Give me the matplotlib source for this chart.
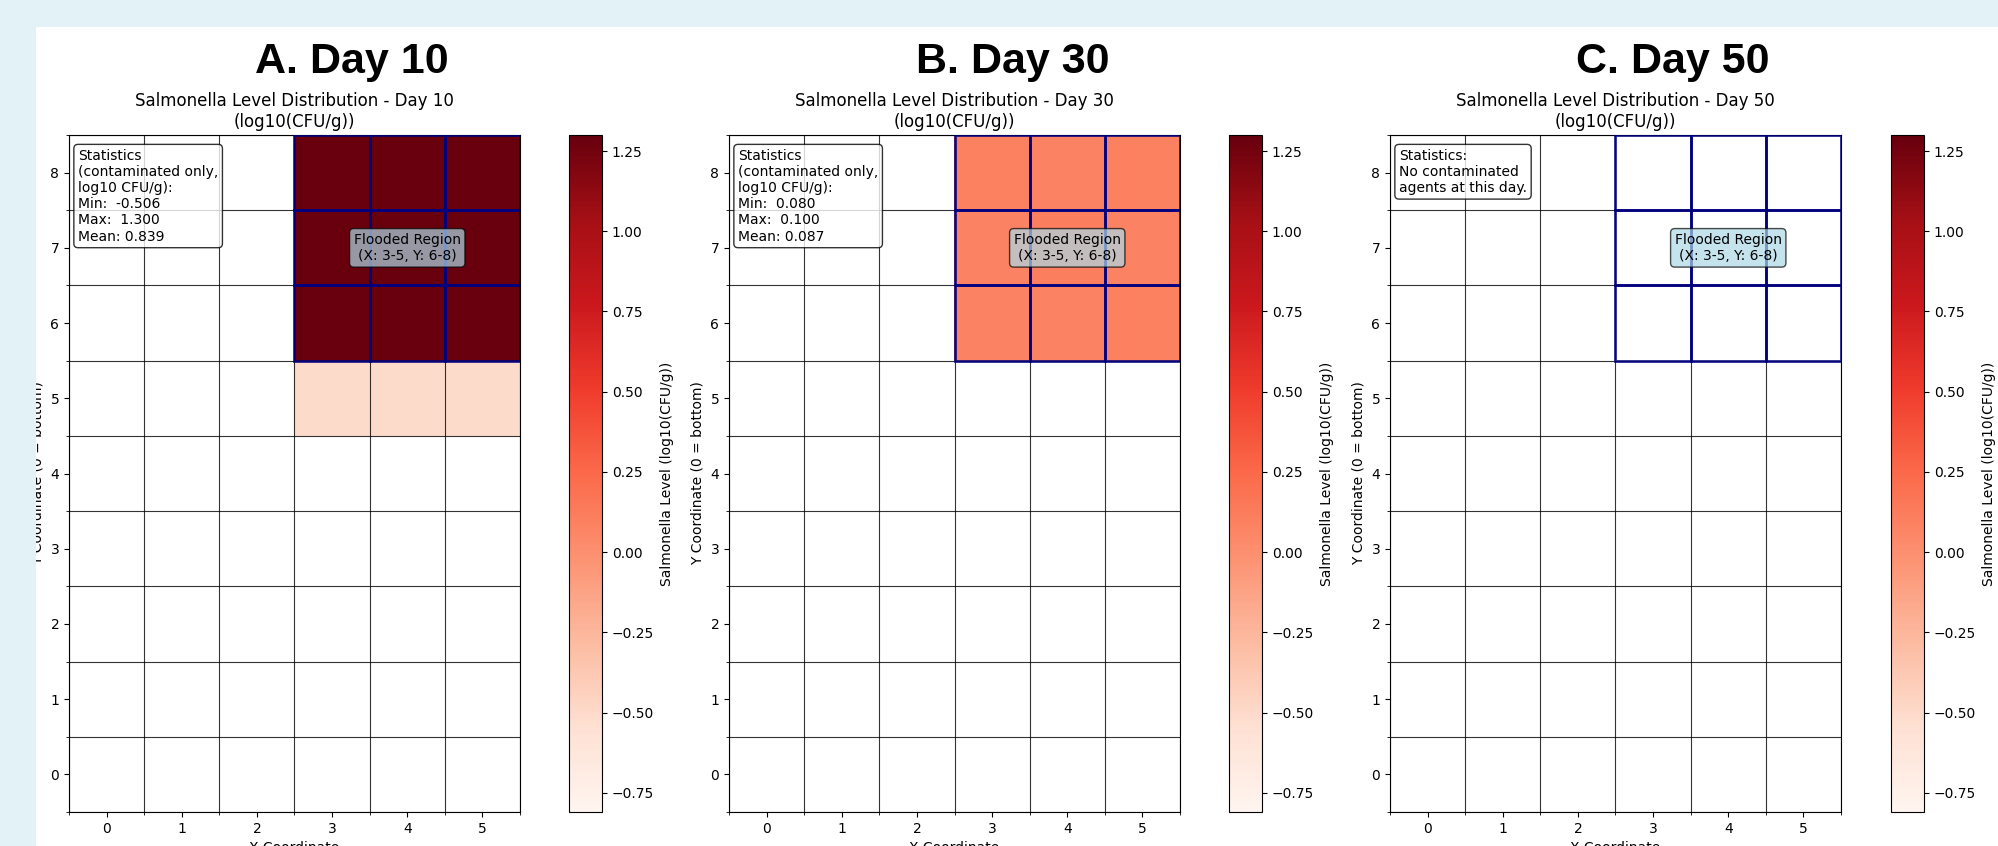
import numpy as np
import matplotlib
matplotlib.use("Agg")
import matplotlib.pyplot as plt
from matplotlib.patches import Rectangle

# ---------------- data ----------------
panel_titles = ["A. Day 10", "B. Day 30", "C. Day 50"]
days = [10, 30, 50]
x_ticks = [0, 1, 2, 3, 4, 5]
y_ticks = [0, 1, 2, 3, 4, 5, 6, 7, 8]
flood_x = [3, 4, 5]
flood_y = [6, 7, 8]
N = None

# rows listed from y = 0 (bottom) to y = 8 (top), columns x = 0..5
day10_levels = [
    [N, N, N, N, N, N],
    [N, N, N, N, N, N],
    [N, N, N, N, N, N],
    [N, N, N, N, N, N],
    [N, N, N, N, N, N],
    [N, N, N, -0.506, -0.506, -0.506],
    [N, N, N, 1.300, 1.300, 1.300],
    [N, N, N, 1.300, 1.300, 1.300],
    [N, N, N, 1.300, 1.300, 1.300],
]
day30_levels = [
    [N, N, N, N, N, N],
    [N, N, N, N, N, N],
    [N, N, N, N, N, N],
    [N, N, N, N, N, N],
    [N, N, N, N, N, N],
    [N, N, N, N, N, N],
    [N, N, N, 0.080, 0.085, 0.090],
    [N, N, N, 0.080, 0.100, 0.085],
    [N, N, N, 0.090, 0.080, 0.093],
]
day50_levels = [[N] * 6 for _ in range(9)]

stats_texts = [
    "Statistics\n(contaminated only,\nlog10 CFU/g):\nMin:  -0.506\nMax:  1.300\nMean: 0.839",
    "Statistics\n(contaminated only,\nlog10 CFU/g):\nMin:  0.080\nMax:  0.100\nMean: 0.087",
    "Statistics:\nNo contaminated\nagents at this day.",
]
flood_label = "Flooded Region\n(X: 3-5, Y: 6-8)"
vmin, vmax = -0.81, 1.30
cbar_ticks = [-0.75, -0.50, -0.25, 0.00, 0.25, 0.50, 0.75, 1.00, 1.25]

# ---------------- figure ----------------
W, H = 1998, 846
fig = plt.figure(figsize=(W / 100, H / 100), dpi=100, facecolor="white")

def fx(px):
    return px / W

def fy(py):
    return 1 - py / H

ax_lefts = [69, 729, 1390]
cb_lefts = [569, 1229, 1891]
ax_top, ax_bot = 135, 812
title_x = [352, 1013, 1673]

for i, levels in enumerate([day10_levels, day30_levels, day50_levels]):
    arr = np.array([[np.nan if v is None else v for v in row] for row in levels], dtype=float)
    ax = fig.add_axes([fx(ax_lefts[i]), fy(ax_bot), fx(451), (ax_bot - ax_top) / H])
    im = ax.imshow(arr, origin="lower", cmap="Reds", vmin=vmin, vmax=vmax,
                   extent=(-0.5, 5.5, -0.5, 8.5), aspect="auto", interpolation="nearest")
    ax.set_xticks(x_ticks)
    ax.set_yticks(y_ticks)
    ax.set_xticks(np.arange(-0.5, 6, 1), minor=True)
    ax.set_yticks(np.arange(-0.5, 9, 1), minor=True)
    ax.grid(which="minor", color="black", linewidth=0.8, alpha=0.8)
    ax.grid(which="major", visible=False)
    ax.set_xlim(-0.5, 5.5)
    ax.set_ylim(-0.5, 8.5)
    ax.set_xlabel("X Coordinate")
    ax.set_ylabel("Y Coordinate (0 = bottom)")
    ax.set_title(f"Salmonella Level Distribution - Day {days[i]}\n(log10(CFU/g))", fontsize=12)
    for xx in flood_x:
        for yy in flood_y:
            ax.add_patch(Rectangle((xx - 0.5, yy - 0.5), 1, 1, fill=False,
                                   edgecolor="navy", linewidth=2, alpha=0.85, zorder=5))
    ax.text(np.mean(flood_x), np.mean(flood_y), flood_label, ha="center", va="center",
            fontsize=10, zorder=6,
            bbox=dict(boxstyle="round", facecolor="lightblue", alpha=0.7))
    ax.text(0.02, 0.98, stats_texts[i], transform=ax.transAxes, ha="left", va="top",
            fontsize=10, zorder=6,
            bbox=dict(boxstyle="round", facecolor="white", alpha=0.8))

    cax = fig.add_axes([fx(cb_lefts[i]), fy(ax_bot), fx(33), (ax_bot - ax_top) / H])
    cb = fig.colorbar(im, cax=cax, ticks=cbar_ticks)
    cb.set_label("Salmonella Level (log10(CFU/g))")

    fig.text(fx(title_x[i]), fy(62), panel_titles[i], ha="center", va="center",
             fontsize=31, fontweight="bold", family="Liberation Sans")

# page background border (cropped screenshot look)
bg = "#e3f2f7"
fig.patches.append(Rectangle((0, 0), fx(36), 1, transform=fig.transFigure,
                             facecolor=bg, edgecolor="none", zorder=100))
fig.patches.append(Rectangle((0, fy(27)), 1, 27 / H, transform=fig.transFigure,
                             facecolor=bg, edgecolor="none", zorder=100))

fig.savefig("out.png", dpi=100, facecolor=fig.get_facecolor())
